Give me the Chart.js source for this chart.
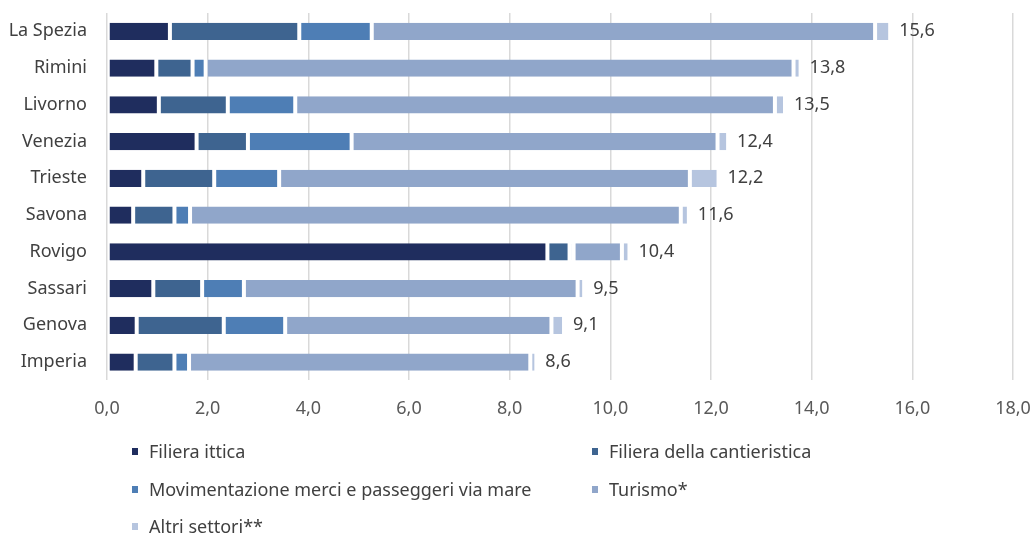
<!DOCTYPE html>
<html>
<head>
<meta charset="utf-8">
<script src="https://cdn.jsdelivr.net/npm/chart.js@4.4.1/dist/chart.umd.min.js"></script>
<style>
  body { margin: 0; background: #fff; font-family: "Noto Sans", sans-serif; }
  #wrap { position: relative; width: 1034px; height: 535px; }
  #legend { position: absolute; left: 0; top: 439px; width: 1034px; }
  .item { position: absolute; font-size: 18px; line-height: 24px; color: #404040; white-space: nowrap; }
  .item span { display: inline-block; width: 6px; height: 7px; margin-right: 11px; vertical-align: 3px; }
</style>
</head>
<body>
<div id="wrap">
  <canvas id="chart" width="1034" height="535"></canvas>
  <div id="legend"></div>
</div>
<script>
const provinces = ['La Spezia', 'Rimini', 'Livorno', 'Venezia', 'Trieste', 'Savona', 'Rovigo', 'Sassari', 'Genova', 'Imperia'];

const ittica        = [1.25, 0.98, 1.03, 1.78, 0.72, 0.52, 8.75, 0.92, 0.59, 0.57];
const cantieristica = [2.57, 0.72, 1.37, 1.02, 1.41, 0.82, 0.44, 0.97, 1.73, 0.77];
const movimentazione = [1.44, 0.26, 1.34, 2.06, 1.29, 0.31, 0.08, 0.83, 1.22, 0.29];
const turismo       = [10.0, 11.68, 9.53, 7.27, 8.16, 9.75, 0.96, 6.63, 5.29, 6.78];
const altri         = [0.30, 0.14, 0.20, 0.21, 0.57, 0.16, 0.15, 0.13, 0.25, 0.12];
const totals        = [15.6, 13.8, 13.5, 12.4, 12.2, 11.6, 10.4, 9.5, 9.1, 8.6];

const seriesNames = ['Filiera ittica', 'Filiera della cantieristica', 'Movimentazione merci e passeggeri via mare', 'Turismo*', 'Altri settori**'];
const seriesColors = ['#1f2d5e', '#3e6490', '#4e7eb5', '#90a6ca', '#b6c5df'];
const seriesData = [ittica, cantieristica, movimentazione, turismo, altri];

function fmt(v) {
    return v.toFixed(1).replace('.', ',');
}

const totalLabels = {
    id: 'totalLabels',
    afterDatasetsDraw(chart) {
        const ctx = chart.ctx;
        const x = chart.scales.x;
        const meta = chart.getDatasetMeta(chart.data.datasets.length - 1);
        ctx.save();
        ctx.font = '18px "Noto Sans"';
        ctx.fillStyle = '#404040';
        ctx.textBaseline = 'middle';
        totals.forEach((t, i) => {
            let sum = 0;
            seriesData.forEach(s => sum += s[i]);
            ctx.fillText(fmt(t), x.getPixelForValue(sum) + 9, meta.data[i].y);
        });
        ctx.restore();
    }
};

new Chart(document.getElementById('chart'), {
    type: 'bar',
    data: {
        labels: provinces,
        datasets: seriesData.map((d, i) => ({
            label: seriesNames[i],
            data: d,
            backgroundColor: seriesColors[i],
            borderColor: '#ffffff',
            borderWidth: { left: 2, right: 2, top: 0, bottom: 0 },
            borderSkipped: false,
            barPercentage: 0.47,
            categoryPercentage: 1
        }))
    },
    options: {
        indexAxis: 'y',
        responsive: false,
        animation: false,
        layout: { padding: { top: 13, bottom: 97, right: 21 } },
        plugins: { legend: { display: false }, tooltip: { enabled: false } },
        scales: {
            x: {
                stacked: true,
                min: 0,
                max: 18,
                afterFit: s => { s.paddingRight = 0; s.paddingLeft = 0; },
                ticks: {
                    stepSize: 2,
                    padding: 18,
                    color: '#595959',
                    font: { family: 'Noto Sans', size: 18 },
                    callback: v => fmt(v)
                },
                grid: { color: '#d9d9d9', lineWidth: 1.5, drawTicks: false },
                border: { display: false }
            },
            y: {
                stacked: true,
                afterFit: s => { s.width = 107; s.paddingTop = 0; s.paddingBottom = 0; },
                ticks: {
                    padding: 12,
                    color: '#404040',
                    font: { family: 'Noto Sans', size: 18 }
                },
                grid: { display: false },
                border: { display: false }
            }
        }
    },
    plugins: [totalLabels]
});

// legend in two columns like the original
const legend = document.getElementById('legend');
seriesNames.forEach((name, i) => {
    const el = document.createElement('div');
    el.className = 'item';
    el.style.left = (i % 2 === 0 ? 132 : 592) + 'px';
    el.style.top = (Math.floor(i / 2) * 37.5) + 'px';
    el.innerHTML = '<span style="background:' + seriesColors[i] + '"></span>' + name;
    legend.appendChild(el);
});
</script>
</body>
</html>
